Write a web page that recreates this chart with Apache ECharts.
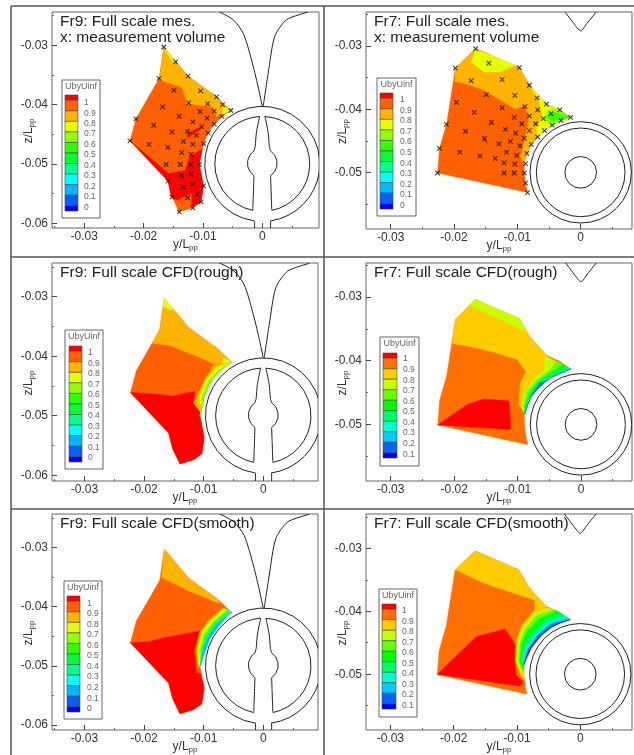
<!DOCTYPE html>
<html>
<head>
<meta charset="utf-8">
<style>html,body{margin:0;background:#fff}#chart{width:634px;height:755px}</style>
<script src="https://cdn.jsdelivr.net/npm/echarts@6/dist/echarts.min.js"></script>
</head>
<body>
<div id="chart"></div>
<script>
// all coordinates below are in units of 1e-3 (y/Lpp, z/Lpp)
const xTicks = [-30, -20, -10, 0];
const xMinor = [-35, -25, -15, -5, 5];
const yTicksFr9 = [-30, -40, -50, -60];
const yTicksFr7 = [-30, -40, -50];
const yMinor = [-25, -35, -45, -55];

// contour level colours, top of the legend first
const levelsMes = ["#ff0000", "#ff6000", "#ffb400", "#e6ff00", "#91ff00", "#30ff00", "#00ff30", "#00ff90", "#00ffff", "#00b8ff", "#0060ff", "#0000ff"];
const levelsCfd = ["#ff0000", "#ff7000", "#ffcc00", "#c8ff00", "#66ff00", "#00ff00", "#00ff66", "#00ffcc", "#00ccff", "#0066ff", "#0000ff"];
const labelsMes = ["1", "0.9", "0.8", "0.7", "0.6", "0.5", "0.4", "0.3", "0.2", "0.1", "0"];
const labelsCfd = ["1", "0.9", "0.8", "0.7", "0.6", "0.5", "0.4", "0.3", "0.2", "0.1"];

// measurement volume
const pointsFr9 = [[-16.6,-30.3],[-14.6,-32.8],[-17.4,-35.6],[-12.5,-35.2],[-14.9,-37.6],[-10.4,-37.7],[-7.7,-38.7],[-12.4,-39.7],[-16.8,-40.4],[-9.2,-39.9],[-6.7,-40],[-5.3,-41],[-8.1,-41.1],[-10.5,-41.2],[-14,-42],[-6.8,-42],[-9.3,-42.3],[-11.7,-42.9],[-21.3,-42.4],[-18.3,-43.5],[-10.2,-43.7],[-8.1,-43.3],[-12.6,-44.5],[-15.2,-44.6],[-9.1,-44.8],[-11.1,-45.2],[-13.3,-46.2],[-22.3,-46.1],[-19.1,-46.7],[-15.9,-47.2],[-11.7,-46.7],[-9.9,-46.6],[-13.6,-48.1],[-12,-48.4],[-16.2,-50.1],[-13.8,-50.1],[-12.1,-50.1],[-10.6,-50.1],[-12,-51.7],[-13.6,-52],[-15.9,-52.9],[-9.9,-53.7],[-11.7,-53.4],[-13.3,-53.9],[-11,-55.1],[-15.2,-55.6],[-12.6,-55.7],[-10.3,-56.4],[-11.7,-57.4],[-14,-58.1]];
const pointsFr7 = [[-16.6,-30.4],[-14.5,-32.7],[-9.7,-33.4],[-19.8,-33.5],[-17.3,-35.5],[-12.4,-35.3],[-8.1,-36.2],[-14.9,-37.7],[-10.4,-37.8],[-6.9,-38.2],[-19.6,-38.9],[-5.4,-39.2],[-12.4,-39.8],[-8.8,-39.6],[-6.8,-40.1],[-3.3,-40.1],[-16.8,-40.5],[-4.7,-40.7],[-8.1,-41.1],[-10.5,-41.3],[-1.6,-41.3],[-5.9,-41.5],[-3.1,-41.8],[-21.2,-42.4],[-14.1,-42.1],[-9.3,-42.3],[-7.1,-42.3],[-4.5,-42.5],[-11.9,-43.2],[-8.1,-43.4],[-5.7,-43.4],[-18.2,-43.5],[-10.3,-43.8],[-8.9,-44.6],[-6.8,-44.4],[-15.2,-44.6],[-11.1,-45.1],[-12.9,-45.5],[-7.8,-45.6],[-9.6,-45.8],[-22.3,-46.2],[-19.1,-46.8],[-11.7,-46.8],[-8.5,-47],[-10.1,-47.3],[-15.9,-47.4],[-13.5,-47.8],[-12.1,-48.5],[-10.4,-48.7],[-8.7,-48.6],[-22.6,-50.1],[-12.1,-50.1],[-10.5,-50.1],[-8.9,-50.1],[-8.7,-51.7],[-8.4,-53.2]];

// outlines of the measured regions, and the part that follows the hub
const hullFr9 = [[-16.6,-30.3],[-12.5,-35.2],[-7.7,-38.7],[-5.3,-41],[-6.8,-42],[-8.1,-43.3],[-9.1,-44.8],[-9.9,-46.6],[-10.6,-50.1],[-9.9,-53.7],[-10.3,-56.4],[-11.7,-57.4],[-14,-58.1],[-15.2,-55.6],[-15.9,-52.9],[-22.3,-46.1],[-21.3,-42.4],[-17.4,-35.6]];
const arcFr9 = [[-10.6,-50.1],[-9.9,-46.6],[-9.1,-44.8],[-8.1,-43.3],[-6.8,-42],[-5.3,-41]];
const hullFr7 = [[-16.6,-30.4],[-9.7,-33.4],[-8.1,-36.2],[-5.4,-39.2],[-3.3,-40.1],[-1.6,-41.3],[-3.1,-41.8],[-4.5,-42.5],[-5.7,-43.4],[-6.8,-44.4],[-7.8,-45.6],[-8.5,-47],[-8.9,-48.5],[-8.9,-50.1],[-8.7,-51.7],[-8.4,-53.2],[-22.6,-50.1],[-22.3,-46.2],[-21.2,-42.4],[-19.8,-33.5]];
const arcFr7 = [[-8.9,-48.5],[-8.5,-47],[-7.8,-45.6],[-6.8,-44.4],[-5.7,-43.4],[-4.5,-42.5],[-3.1,-41.8],[-1.6,-41.3]];

// panel 1 contours: [level, polygon], painted in order
const mesFr9 = [
  [1, hullFr9],
  [2, [[-16.6,-30.3],[-12.5,-35.2],[-7.7,-38.7],[-5.3,-41],[-6.5,-41.5],[-7.7,-42],[-8.3,-40.4],[-12.8,-39.8],[-13,-38.7],[-13.6,-37.1],[-15.6,-36.4],[-17.4,-35.8]]],
  [3, [[-16.6,-30.3],[-14.6,-32.8],[-14.9,-33],[-16.3,-31]]],
  [3, [[-5.3,-41],[-6.5,-40.3],[-6.7,-41.7]]],
  [0, [[-22.3,-46.1],[-15.8,-51.6],[-13,-51.1],[-12.2,-48.8],[-10.1,-47.4],[-10.6,-50.1],[-9.9,-53.7],[-10.3,-56.4],[-11.9,-57.2],[-11.9,-54.9],[-14.4,-56.1],[-15.4,-55.5],[-15.9,-52.9]]],
  [0, [[-12.6,-44.8],[-10.2,-43.7],[-10.2,-44],[-12.3,-45.4],[-12.6,-45.5]]],
];

// panel 2 contours
const mesFr7 = [
  [1, hullFr7],
  [2, [[-16.6,-30.4],[-9.7,-33.4],[-8.1,-36.2],[-5.4,-39.2],[-5.3,-40.9],[-6.8,-44.4],[-7.8,-45.6],[-8.5,-47],[-8.9,-48.5],[-9,-48.6],[-9.5,-47.5],[-9.1,-45.9],[-8.6,-43.8],[-8.2,-41.2],[-8.9,-39.3],[-10.3,-40],[-12.7,-38.5],[-15.3,-37],[-18,-36],[-19.9,-35.6],[-19.8,-33.5]]],
  [3, [[-16.6,-30.6],[-17.3,-32.5],[-15.3,-34.1],[-12.7,-34.1],[-10.3,-33],[-14.3,-31.4]]],
  [3, [[-8.1,-36.2],[-5.4,-39.2],[-3.3,-40.1],[-2.5,-41],[-4.5,-42.5],[-5.7,-43.4],[-6.8,-44.4],[-7,-43],[-6,-41],[-6.7,-38.5]]],
  [4, [[-4.3,-39.9],[-3.1,-40.4],[-1.6,-41.3],[-3.1,-41.8],[-4.5,-42.7],[-5.8,-41.6],[-5.3,-40.4]]],
  [5, [[-4.5,-40.4],[-3.5,-40.7],[-1.6,-41.2],[-3.2,-41.6],[-4.5,-41.8],[-5.3,-41.2]]],
  [0, [[-15.3,-44.5],[-14.6,-45.4],[-15.3,-45]]],
];

// panel 3 contours
const roughFr9 = [
  [1, hullFr9],
  [2, [[-16.6,-30.3],[-12.5,-35.2],[-7.7,-38.7],[-5.3,-41],[-8.1,-41.4],[-10.7,-40.2],[-15.7,-38.2],[-18.7,-37.8],[-17.4,-35.6]]],
  [3, [[-16.6,-30.3],[-15,-32],[-15.4,-32.3],[-16.8,-31.7]]],
  [3, [[-6.6,-40.3],[-5.3,-41],[-7.6,-42.4],[-8.1,-41.5],[-7,-41.4]]],
  [0, [[-22.3,-46.1],[-18.5,-46.3],[-15.2,-46.7],[-11.5,-45.9],[-11.7,-47.9],[-10.5,-49.4],[-10.6,-50.1],[-9.9,-53.7],[-10.3,-56.4],[-11.7,-57.4],[-14,-58.1],[-15.2,-55.6],[-15.9,-52.9]]],
];
const roughFr9Bands = [
  [2, [[-8.4,-41.5],[-9.8,-43.9],[-10.8,-45.9],[-11.7,-47.9],[-10.5,-49.4]]],
  [3, [[-8,-41.9],[-9.6,-43.9],[-10.6,-46.2],[-10.8,-47.7],[-10.3,-48.4]]],
  [4, [[-7.6,-42.4],[-9.3,-44.2],[-10.2,-46.5],[-10.4,-47.6],[-10.1,-47.6]]],
  [5, [[-7.6,-42.7],[-9,-44.5],[-9.9,-46.8]]],
];

// panel 4 contours
const roughFr7 = [
  [1, hullFr7],
  [2, [[-16.6,-30.4],[-9.7,-33.4],[-8.1,-36.2],[-5.4,-39.2],[-5.8,-41.4],[-8.8,-44.8],[-8.9,-48.5],[-9.1,-48],[-9.8,-46.9],[-9.6,-43.5],[-8.7,-41.7],[-10.1,-39.8],[-13.3,-38.8],[-16.4,-38],[-20.3,-37.3],[-19.8,-33.5]]],
  [3, [[-16.7,-30.4],[-9.7,-33.3],[-8.6,-35.4],[-11,-34.3],[-17.7,-31.2]]],
  [0, [[-22.6,-50.1],[-18,-46.9],[-15.4,-46],[-11.4,-46.3],[-11.2,-48],[-11.1,-50.6],[-11.2,-50.8]]],
];
const roughFr7Bands = [
  [3, [[-5.7,-39.2],[-5.8,-41.4],[-7.5,-43],[-8.8,-44.8],[-9.3,-47.2],[-8.8,-48.5]]],
  [4, [[-3.8,-40],[-4.9,-41.4],[-7,-43],[-8.5,-44.8],[-9.1,-47.2],[-8.7,-48.1]]],
  [5, [[-2.9,-40.6],[-4.4,-41.7],[-6.5,-43],[-8,-44.8],[-8.9,-47.2]]],
  [6, [[-2.3,-41],[-5.9,-42.8],[-7.8,-44.9],[-8.7,-47.2]]],
  [7, [[-5.9,-43],[-7.5,-44.9],[-8.6,-47.2]]],
  [9, [[-6.5,-43.5],[-7.8,-45.3],[-8.5,-47.4]]],
];

// panel 5 contours
const smoothFr9 = [
  [1, hullFr9],
  [2, [[-16.6,-30.3],[-12.5,-35.2],[-7.7,-38.7],[-7.3,-39.5],[-12.4,-37.4],[-17.1,-35.1]]],
  [0, [[-22.3,-46.1],[-19.1,-45.9],[-16.9,-45.3],[-10.7,-44.1],[-11.6,-47.4],[-11.2,-51.3],[-10.5,-51.3],[-9.9,-53.7],[-10.3,-56.4],[-11.7,-57.4],[-14,-58.1],[-15.2,-55.6],[-15.9,-52.9]]],
];
const smoothFr9Bands = [
  [2, [[-6.9,-40.2],[-9.3,-42.4],[-10.7,-44.4],[-11.3,-47.4],[-10.9,-50.2]]],
  [3, [[-6.5,-40.3],[-9,-42.5],[-10.4,-44.5],[-11.1,-47.4],[-10.8,-49.7]]],
  [4, [[-6.2,-40.5],[-8.7,-42.7],[-10.1,-44.7],[-10.8,-47.4],[-10.6,-49.1]]],
  [5, [[-6,-40.6],[-8.4,-42.8],[-9.8,-44.9],[-10.4,-47.4]]],
  [7, [[-5.7,-40.7],[-8.1,-43.1],[-9.5,-45.1],[-10.2,-46.9]]],
  [8, [[-5.6,-40.8],[-7.9,-43.3],[-9.2,-45.3]]],
  [9, [[-5.4,-40.9],[-7.6,-43.5],[-9,-45.5]]],
];

// panel 6 contours
const smoothFr7 = [
  [1, hullFr7],
  [2, [[-16.6,-30.4],[-9.7,-33.4],[-8.1,-36.2],[-5.4,-39.2],[-5.2,-39.4],[-7.2,-40.2],[-7.2,-38.2],[-14.8,-35.7],[-19.8,-33.4]]],
  [0, [[-22.6,-50],[-16.4,-44],[-11.9,-42.8],[-10.8,-44.4],[-10.3,-45.4],[-10.4,-47.8],[-10.1,-50.2],[-9,-51.2],[-9.5,-51.9]]],
];
const smoothFr7Bands = [
  [2, [[-5.2,-39.4],[-7.4,-40],[-9.3,-42.3],[-10.1,-44.6],[-10.3,-47.8],[-9.3,-50.4],[-8.9,-50.9]]],
  [3, [[-4.8,-39.5],[-7.2,-40.3],[-9,-42.5],[-9.8,-44.6],[-10.1,-47.8],[-9,-50.4]]],
  [4, [[-4.3,-39.7],[-6.9,-40.7],[-8.7,-42.8],[-9.5,-44.9],[-9.8,-47.8],[-9,-49.9]]],
  [5, [[-3.7,-39.9],[-6.4,-41.1],[-8.4,-43.2],[-9.3,-45.2],[-9.5,-48.1],[-9,-49.4]]],
  [6, [[-3.2,-40.3],[-5.8,-41.5],[-7.8,-43.6],[-8.9,-45.4],[-9.3,-47.8]]],
  [7, [[-2.5,-40.7],[-5.3,-41.8],[-7.4,-43.9],[-8.6,-45.7],[-9.1,-47.8]]],
  [8, [[-2.2,-41.1],[-4.8,-41.9],[-6.9,-43.9],[-8.4,-46.2]]],
  [9, [[-4.5,-42],[-6.6,-43.7],[-8.2,-46],[-8.9,-48.3]]],
  [10, [[-4.3,-42.3],[-6.2,-43.9],[-7.7,-45.8],[-8.6,-47.8]]],
];

// stern geometry
const skegFr9 = [
  [[-7.4,-24.3],[-4.9,-25.7],[-3.2,-28],[-1.8,-32.5],[-0.7,-37],[0,-40.3]],
  [[7.75,-24.4],[4.1,-25.7],[2.1,-28.5],[1,-34.7],[0.15,-40.3]],
  [[1.6,-57.8],[1.4,-52]],
  [[1.4,-47.8],[1.2,-47.1],[1,-44.8],[0.45,-42]],
  [[-1.6,-57.8],[-1.4,-52]],
  [[-1.4,-47.8],[-1.2,-47.1],[-1,-44.8],[-0.45,-42]],
  [[1.4,-59.6],[1.4,-62]],
  [[-1.3,-59.6],[-1.3,-62]],
];
const arcsFr9 = [
  { center: [0, -50], r: 9.7, from: 98, to: 442 },
  { center: [0, -50], r: 8, from: 273, to: 438.5 },
  { center: [0, -50], r: 8, from: 101.5, to: 267 },
  { center: [0, -49.9], r: 2.5, from: -56, to: 56 },
  { center: [0, -49.9], r: 2.5, from: 124, to: 236 },
];
const skegFr7 = [[[-2.6,-24.4],[-1.1,-26.4],[0,-27.6],[1,-26.4],[2.6,-24.4]]];
const arcsFr7 = [
  { center: [0, -50], r: 8, from: 0, to: 360 },
  { center: [0, -50], r: 7, from: 0, to: 360 },
  { center: [0, -50], r: 2.5, from: 0, to: 360 },
];

const panels = [
  { title: ["Fr9: Full scale mes.", "x: measurement volume"], box: [52, 12, 267, 216], xr: [-35.44, 9.56], yr: [-60.8, -24.4], yTicks: yTicksFr9, layers: mesFr9, bands: [], arc: arcFr9, points: pointsFr9, lines: skegFr9, arcs: arcsFr9, levels: levelsMes, labels: labelsMes, legend: { box: [62, 80, 38, 138], bar: [65, 95, 13, 116], labelX: 84, first: 102.7, last: 207.3 } },
  { title: ["Fr7: Full scale mes.", "x: measurement volume"], box: [366, 12, 266, 217], xr: [-33.9, 8.1], yr: [-58.97, -24.6], yTicks: yTicksFr7, layers: mesFr7, bands: [], arc: arcFr7, points: pointsFr7, lines: skegFr7, arcs: arcsFr7, levels: levelsMes, labels: labelsMes, legend: { box: [377, 78, 39, 138], bar: [380, 93, 13, 116], labelX: 400, first: 100, last: 205.3 } },
  { title: ["Fr9: Full scale CFD(rough)"], box: [52, 263, 266, 218], xr: [-35.45, 9.18], yr: [-60.97, -24.34], yTicks: yTicksFr9, layers: roughFr9, bands: roughFr9Bands, arc: arcFr9, points: [], lines: skegFr9, arcs: arcsFr9, levels: levelsMes, labels: labelsMes, legend: { box: [65, 330, 38, 139], bar: [69, 346, 13, 116], labelX: 88, first: 353, last: 458 } },
  { title: ["Fr7: Full scale CFD(rough)"], box: [366, 263, 266, 218], xr: [-33.9, 8.04], yr: [-58.89, -24.66], yTicks: yTicksFr7, layers: roughFr7, bands: roughFr7Bands, arc: arcFr7, points: [], lines: skegFr7, arcs: arcsFr7, levels: levelsCfd, labels: labelsCfd, legend: { box: [380, 337, 39, 129], bar: [383, 353, 14, 105], labelX: 403, first: 359, last: 454.3 } },
  { title: ["Fr9: Full scale CFD(smooth)"], box: [52, 514, 266, 218], xr: [-35.45, 9.18], yr: [-60.83, -24.36], yTicks: yTicksFr9, layers: smoothFr9, bands: smoothFr9Bands, arc: arcFr9, points: [], lines: skegFr9, arcs: arcsFr9, levels: levelsMes, labels: labelsMes, legend: { box: [64, 581, 38, 138], bar: [67, 596, 13, 116], labelX: 87, first: 603.3, last: 708.7 } },
  { title: ["Fr7: Full scale CFD(smooth)"], box: [366, 514, 266, 218], xr: [-33.85, 8.17], yr: [-58.87, -24.54], yTicks: yTicksFr7, layers: smoothFr7, bands: smoothFr7Bands, arc: arcFr7, points: [], lines: skegFr7, arcs: arcsFr7, levels: levelsCfd, labels: labelsCfd, legend: { box: [379, 589, 38, 128], bar: [382, 604, 14, 105], labelX: 402, first: 610.7, last: 705.3 } },
];

const font = "Liberation Sans";
const ink = "#333";
const formatTick = (v) => (v === 0 ? "0" : (v / 1000).toFixed(2));
const richName = (text) => `{a|${text}/L}{b|pp}`;
const nameRich = {
  a: { fontSize: 12, fontFamily: font, color: ink },
  b: { fontSize: 8, fontFamily: font, color: ink, verticalAlign: "bottom", padding: [6, 0, 0, 0] },
};
const noLine = { show: false, onZero: false };

const grid = [], xAxis = [], yAxis = [], series = [], graphic = [];

panels.forEach((p, i) => {
  const [left, top, width, height] = p.box;
  grid.push({ left, top, width, height, show: true, backgroundColor: "#fff", borderColor: "#666", borderWidth: 1 });

  const majorX = {
    gridIndex: i, type: "value", min: p.xr[0], max: p.xr[1], position: "bottom",
    splitLine: { show: false }, axisLine: noLine,
    axisTick: { inside: true, length: 5, lineStyle: { color: "#444" }, customValues: xTicks },
    axisLabel: { customValues: xTicks, formatter: formatTick, margin: 3, fontSize: 12, fontFamily: font, color: ink },
    name: richName("y"), nameLocation: "middle", nameGap: 10, nameMoveOverlap: false, nameTextStyle: { rich: nameRich },
  };
  const minorX = {
    gridIndex: i, type: "value", min: p.xr[0], max: p.xr[1], position: "bottom",
    splitLine: { show: false }, axisLine: noLine, axisLabel: { show: false },
    axisTick: { inside: true, length: 2, lineStyle: { color: "#666" }, customValues: xMinor.filter((v) => v > p.xr[0] && v < p.xr[1]) },
  };
  const majorY = {
    gridIndex: i, type: "value", min: p.yr[0], max: p.yr[1], position: "left",
    splitLine: { show: false }, axisLine: noLine,
    axisTick: { inside: true, length: 5, lineStyle: { color: "#444" }, customValues: p.yTicks },
    axisLabel: { customValues: p.yTicks, formatter: formatTick, margin: 4, fontSize: 12, fontFamily: font, color: ink },
    // padding pushes the name down between the -0.04 and -0.05 labels
    name: richName("z"), nameLocation: "middle", nameGap: 16, nameRotate: 90, nameMoveOverlap: false, nameTextStyle: { rich: nameRich, padding: [0, 22, 0, 0] },
  };
  const minorY = {
    gridIndex: i, type: "value", min: p.yr[0], max: p.yr[1], position: "left",
    splitLine: { show: false }, axisLine: noLine, axisLabel: { show: false },
    axisTick: { inside: true, length: 2, lineStyle: { color: "#666" }, customValues: yMinor.filter((v) => v > p.yr[0] && v < p.yr[1]) },
  };
  xAxis.push(majorX, minorX);
  yAxis.push(majorY, minorY);

  const axes = { xAxisIndex: 2 * i, yAxisIndex: 2 * i };

  // bands are open curves closed along the hub side of the region
  const fills = p.layers.concat(p.bands.map(([level, outer]) => [level, outer.concat(p.arc)]));
  series.push({
    type: "custom", ...axes, clip: true, silent: true, z: 2,
    data: fills.map((_, k) => [k]),
    renderItem: (params, api) => {
      const [level, poly] = fills[params.dataIndex];
      return {
        type: "polygon",
        shape: { points: poly.map((pt) => api.coord(pt)) },
        style: { fill: p.levels[level], stroke: p.levels[level], lineWidth: 0.3 },
      };
    },
  });

  series.push({
    type: "custom", ...axes, clip: true, silent: true, z: 3,
    data: p.lines.map((_, k) => [k]),
    renderItem: (params, api) => ({
      type: "polyline",
      shape: { points: p.lines[params.dataIndex].map((pt) => api.coord(pt)), smooth: 0.25 },
      style: { fill: "none", stroke: "#222", lineWidth: 1 },
    }),
  });

  series.push({
    type: "custom", ...axes, clip: true, silent: true, z: 3,
    data: p.arcs.map((_, k) => [k]),
    renderItem: (params, api) => {
      const a = p.arcs[params.dataIndex];
      const [cx, cy] = api.coord(a.center);
      return {
        type: "arc",
        shape: { cx, cy, r: a.r * api.size([1, 0])[0], startAngle: (a.from * Math.PI) / 180, endAngle: (a.to * Math.PI) / 180, clockwise: true },
        style: { fill: "none", stroke: "#222", lineWidth: 1 },
      };
    },
  });

  if (p.points.length) {
    series.push({
      type: "scatter", ...axes, silent: true, z: 4, data: p.points,
      symbol: "path://M0 0L10 10M10 0L0 10", symbolSize: 4.5,
      itemStyle: { color: "transparent", borderColor: "#111", borderWidth: 1.1 },
    });
  }

  // title text
  p.title.forEach((line, k) => {
    graphic.push({
      type: "text", z: 20, x: left + 8, y: top + 10 + 16 * k,
      style: { text: line, font: `15.5px "${font}"`, fill: "#222", verticalAlign: "middle" },
    });
  });

  // contour legend
  const lg = p.legend;
  graphic.push({
    type: "rect", z: 10,
    shape: { x: lg.box[0], y: lg.box[1], width: lg.box[2], height: lg.box[3] },
    style: { fill: "#fff", stroke: "#666", lineWidth: 1 },
  });
  graphic.push({
    type: "text", z: 11, x: lg.box[0] + lg.box[2] / 2, y: lg.box[1] + 7,
    style: { text: "UbyUinf", font: `9px "${font}"`, fill: "#666", align: "center", verticalAlign: "middle" },
  });
  const step = lg.bar[3] / (p.levels.length - 1);
  let barY = lg.bar[1];
  p.levels.forEach((c, k) => {
    const h = k === 0 || k === p.levels.length - 1 ? step / 2 : step;
    graphic.push({
      type: "rect", z: 11,
      shape: { x: lg.bar[0], y: barY, width: lg.bar[2], height: h },
      style: { fill: c, stroke: "#444", lineWidth: 0.6 },
    });
    barY += h;
  });
  p.labels.forEach((t, k) => {
    graphic.push({
      type: "text", z: 11, x: lg.labelX,
      y: lg.first + ((lg.last - lg.first) * k) / (p.labels.length - 1),
      style: { text: t, font: `8.5px "${font}"`, fill: "#666", verticalAlign: "middle" },
    });
  });
});

// frame lines of the composite figure
const frame = [
  [11, 6, 634, 6], [11, 6, 11, 755], [324, 6, 324, 755],
  [11, 257, 634, 257], [11, 509, 634, 509],
];
frame.forEach(([x1, y1, x2, y2]) => {
  graphic.push({
    type: "line", z: 1, shape: { x1, y1, x2, y2 },
    style: { stroke: "#555", lineWidth: 1.5 },
  });
});

echarts.init(document.getElementById("chart"), null, { renderer: "canvas" }).setOption({
  animation: false,
  backgroundColor: "#fff",
  grid, xAxis, yAxis, series, graphic,
});
</script>
</body>
</html>
